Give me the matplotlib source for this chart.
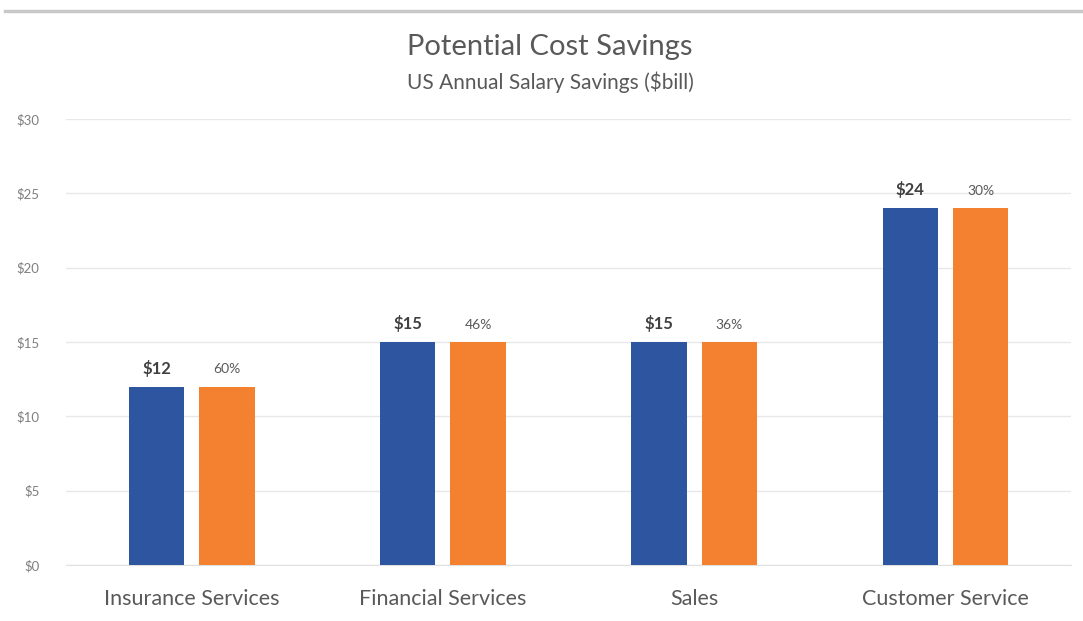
import numpy as np
import matplotlib.pyplot as plt
from matplotlib.lines import Line2D

categories = ["Insurance Services", "Financial Services", "Sales", "Customer Service"]
savings = [12, 15, 15, 24]
share_bars = [12, 15, 15, 24]
share_labels = ["60%", "46%", "36%", "30%"]
yticks = [0, 5, 10, 15, 20, 25, 30]

plt.rcParams["font.family"] = ["Lato", "DejaVu Sans"]

fig = plt.figure(figsize=(10.83, 6.21), dpi=100)
ax = fig.add_axes([0.061, 0.0902, 0.928, 0.7182])

x = np.arange(len(categories))
width = 0.22
offset = 0.14
blue = "#2E55A0"
orange = "#F4812F"

ax.bar(x - offset, savings, width, color=blue, zorder=3)
ax.bar(x + offset, share_bars, width, color=orange, zorder=3)

for xi, v in zip(x, savings):
    ax.annotate(f"${v}", (xi - offset, v), xytext=(0, 7), textcoords="offset points",
                ha="center", va="bottom", fontsize=12, color="#404040", fontweight="bold")
for xi, v, lab in zip(x, share_bars, share_labels):
    ax.annotate(lab, (xi + offset, v), xytext=(0, 8), textcoords="offset points",
                ha="center", va="bottom", fontsize=10, color="#595959")

ax.set_xlim(-0.5, 3.5)
ax.set_ylim(0, 30)
ax.set_yticks(yticks)
ax.set_yticklabels([f"${t}" for t in yticks], fontsize=9.5, color="#7f7f7f")
ax.set_xticks(x)
ax.set_xticklabels(categories, fontsize=15.5, color="#595959")
ax.tick_params(axis="both", length=0)
ax.tick_params(axis="y", pad=19)
ax.tick_params(axis="x", pad=17)

ax.grid(axis="y", color="#e8e8e8", linewidth=1, zorder=0)
for s in ["top", "right", "left"]:
    ax.spines[s].set_visible(False)
ax.spines["bottom"].set_color("#e0e0e0")

fig.text(0.508, 0.925, "Potential Cost Savings", ha="center", va="center",
         fontsize=21, color="#595959")
fig.text(0.508, 0.867, "US Annual Salary Savings ($bill)", ha="center", va="center",
         fontsize=15, color="#595959")

# thin grey rule along the top edge
fig.add_artist(Line2D([0.005, 1.0], [0.983, 0.983], transform=fig.transFigure,
                      color="#c8c8c8", linewidth=2.5))

fig.savefig("out.png", dpi=100, facecolor="white")
